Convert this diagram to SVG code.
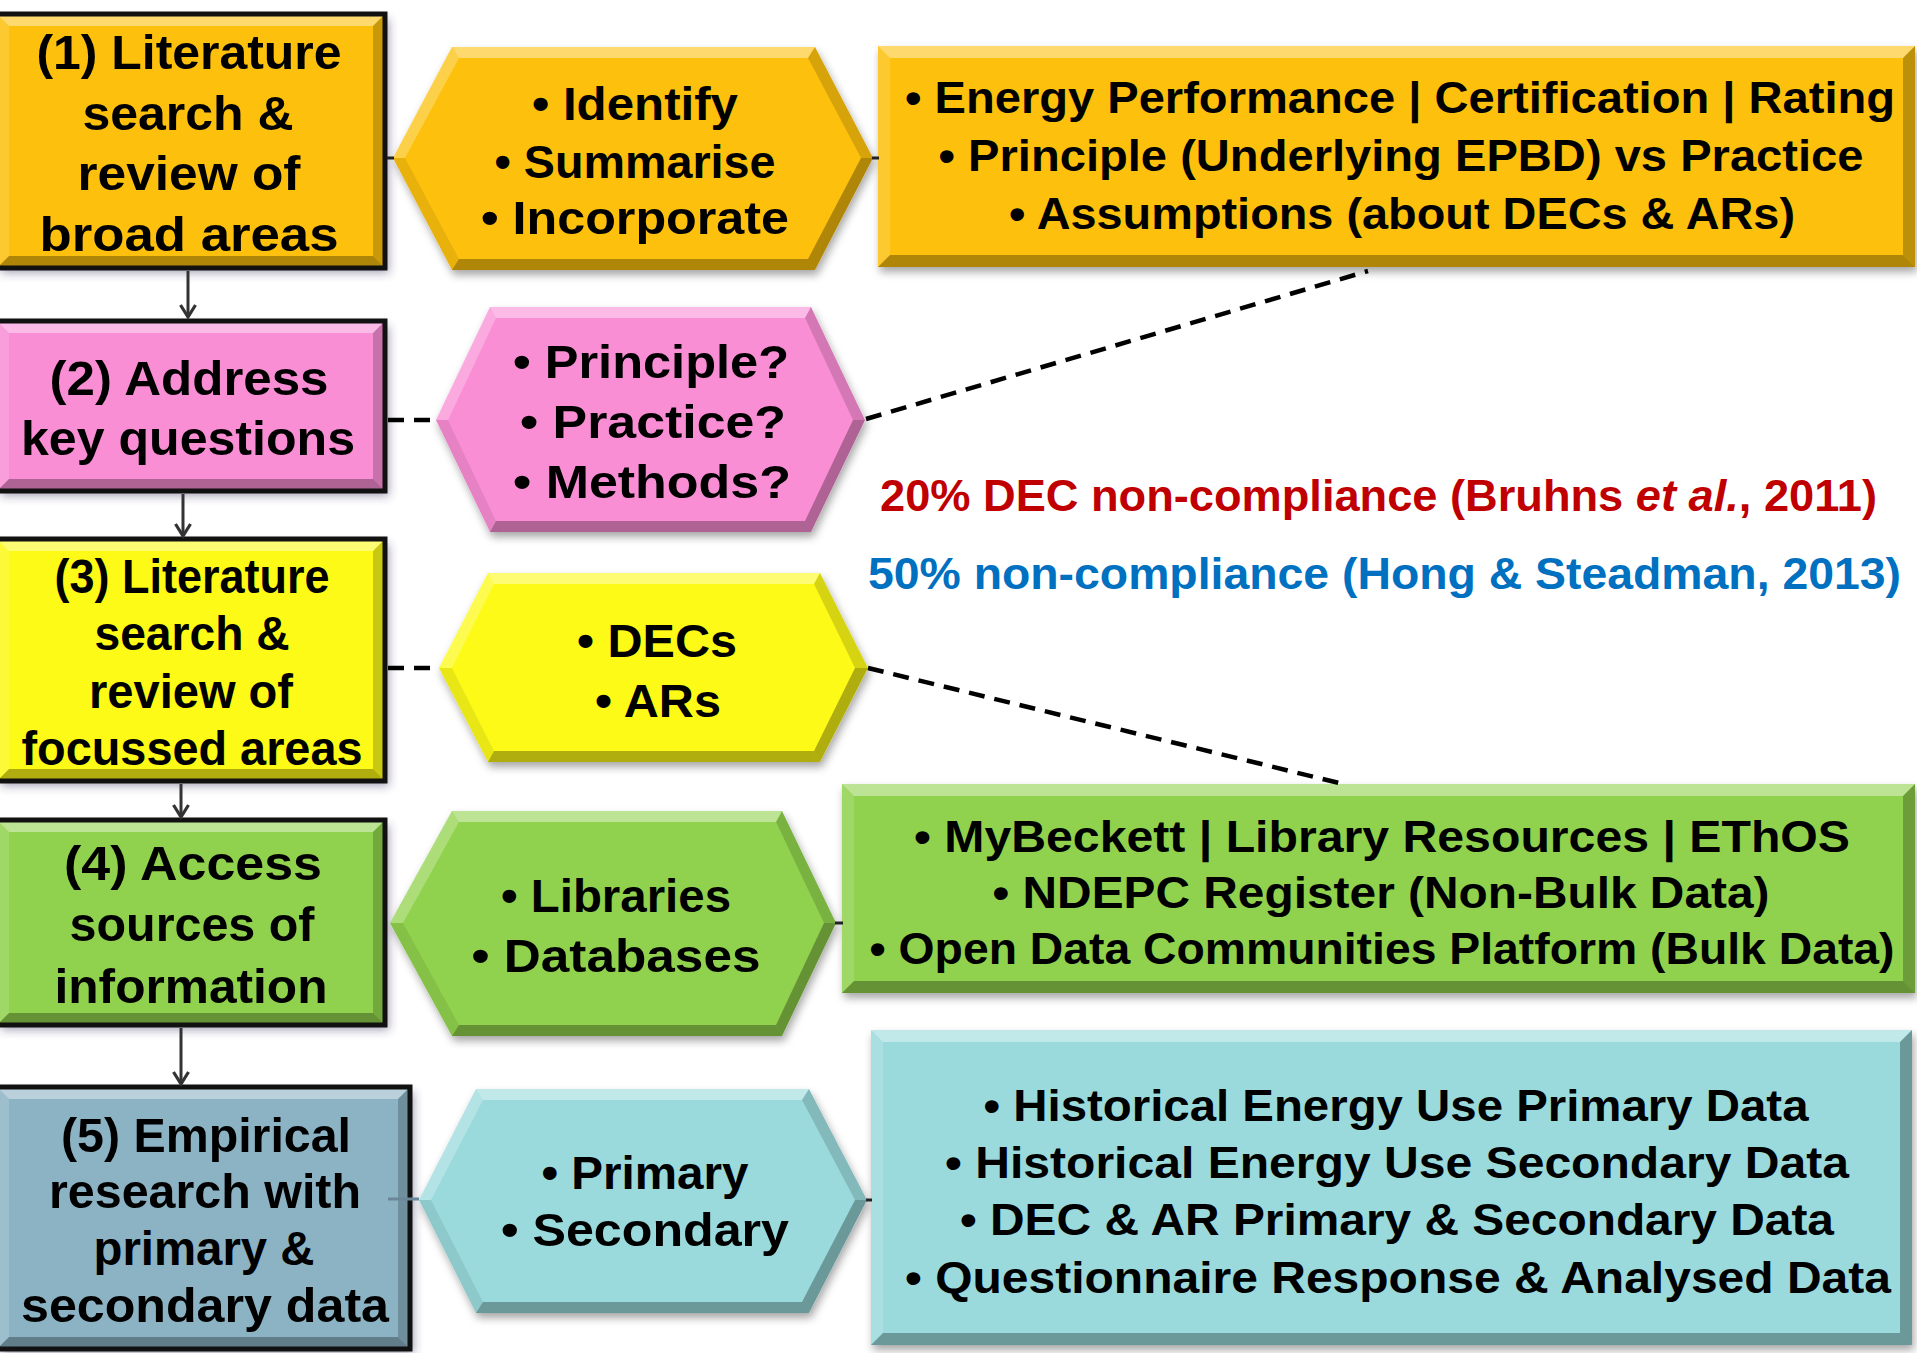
<svg xmlns="http://www.w3.org/2000/svg" width="1917" height="1353" viewBox="0 0 1917 1353">
<defs>
<style>
.t{font-family:"Liberation Sans",Arial,sans-serif;font-weight:bold;fill:#000;text-anchor:middle}
.lb{font-size:48px}
.hx{font-size:46px}
.rb{font-size:44px}
.note{font-family:"Liberation Sans",Arial,sans-serif;font-weight:bold;font-size:44px}
.hl{fill:#fff}
.sh{fill:#000}
.border{fill:none;stroke:#111;stroke-width:5}
.dash{fill:none;stroke:#000;stroke-width:4.5;stroke-dasharray:16 10}
.arrow{fill:none;stroke:#333;stroke-width:3;marker-end:url(#chev)}
.link{fill:none;stroke:#222;stroke-width:3}
</style>
<marker id="chev" markerUnits="userSpaceOnUse" markerWidth="20" markerHeight="20" refX="15" refY="10" orient="auto" viewBox="0 0 20 20">
<path d="M3,2.5 L15,10 L3,17.5" fill="none" stroke="#333" stroke-width="3.2"/>
</marker>
<filter id="shL" x="-10%" y="-10%" width="130%" height="130%">
<feDropShadow dx="4" dy="5" stdDeviation="5" flood-color="#3c3060" flood-opacity="0.45"/>
</filter>
<filter id="shR" x="-10%" y="-10%" width="130%" height="130%">
<feDropShadow dx="2" dy="5" stdDeviation="4" flood-color="#000" flood-opacity="0.35"/>
</filter>
</defs>
<rect width="1917" height="1353" fill="#fff"/>

<!-- Left boxes -->
<g id="box1">
<rect x="-3" y="14" width="388" height="254" fill="#FDC00F" filter="url(#shL)"/>
<polygon class="hl" opacity="0.4" points="-3,14 385,14 373,26 9,26"/>
<polygon class="hl" opacity="0.15" points="-3,14 9,26 9,256 -3,268"/>
<polygon class="sh" opacity="0.3" points="-3,268 9,256 373,256 385,268"/>
<polygon class="sh" opacity="0.2" points="385,14 385,268 373,256 373,26"/>
<rect class="border" x="-3" y="14" width="388" height="254"/>
<text class="t lb" x="189" y="69" textLength="305" lengthAdjust="spacingAndGlyphs">(1) Literature</text>
<text class="t lb" x="188" y="130" textLength="211" lengthAdjust="spacingAndGlyphs">search &amp;</text>
<text class="t lb" x="189" y="190" textLength="223" lengthAdjust="spacingAndGlyphs">review of</text>
<text class="t lb" x="189" y="251" textLength="299" lengthAdjust="spacingAndGlyphs">broad areas</text>
</g>

<g id="box2">
<rect x="-3" y="321" width="388" height="170" fill="#FA8ED5" filter="url(#shL)"/>
<polygon class="hl" opacity="0.4" points="-3,321 385,321 373,333 9,333"/>
<polygon class="hl" opacity="0.15" points="-3,321 9,333 9,479 -3,491"/>
<polygon class="sh" opacity="0.3" points="-3,491 9,479 373,479 385,491"/>
<polygon class="sh" opacity="0.2" points="385,321 385,491 373,479 373,333"/>
<rect class="border" x="-3" y="321" width="388" height="170"/>
<text class="t lb" x="189" y="395" textLength="279" lengthAdjust="spacingAndGlyphs">(2) Address</text>
<text class="t lb" x="188" y="455" textLength="334" lengthAdjust="spacingAndGlyphs">key questions</text>
</g>

<g id="box3">
<rect x="-3" y="539" width="388" height="242" fill="#FCFA14" filter="url(#shL)"/>
<polygon class="hl" opacity="0.4" points="-3,539 385,539 373,551 9,551"/>
<polygon class="hl" opacity="0.15" points="-3,539 9,551 9,769 -3,781"/>
<polygon class="sh" opacity="0.3" points="-3,781 9,769 373,769 385,781"/>
<polygon class="sh" opacity="0.2" points="385,539 385,781 373,769 373,551"/>
<rect class="border" x="-3" y="539" width="388" height="242"/>
<text class="t lb" x="192" y="593" textLength="275" lengthAdjust="spacingAndGlyphs">(3) Literature</text>
<text class="t lb" x="192" y="650" textLength="195" lengthAdjust="spacingAndGlyphs">search &amp;</text>
<text class="t lb" x="191" y="708" textLength="204" lengthAdjust="spacingAndGlyphs">review of</text>
<text class="t lb" x="192" y="765" textLength="341" lengthAdjust="spacingAndGlyphs">focussed areas</text>
</g>

<g id="box4">
<rect x="-3" y="820" width="388" height="205" fill="#90D24E" filter="url(#shL)"/>
<polygon class="hl" opacity="0.4" points="-3,820 385,820 373,832 9,832"/>
<polygon class="hl" opacity="0.15" points="-3,820 9,832 9,1013 -3,1025"/>
<polygon class="sh" opacity="0.3" points="-3,1025 9,1013 373,1013 385,1025"/>
<polygon class="sh" opacity="0.2" points="385,820 385,1025 373,1013 373,832"/>
<rect class="border" x="-3" y="820" width="388" height="205"/>
<text class="t lb" x="193" y="880" textLength="258" lengthAdjust="spacingAndGlyphs">(4) Access</text>
<text class="t lb" x="192" y="941" textLength="245" lengthAdjust="spacingAndGlyphs">sources of</text>
<text class="t lb" x="191" y="1003" textLength="273" lengthAdjust="spacingAndGlyphs">information</text>
</g>

<g id="box5">
<rect x="-3" y="1087" width="413" height="262" fill="#8CB3C4" filter="url(#shL)"/>
<polygon class="hl" opacity="0.4" points="-3,1087 410,1087 398,1099 9,1099"/>
<polygon class="hl" opacity="0.15" points="-3,1087 9,1099 9,1337 -3,1349"/>
<polygon class="sh" opacity="0.3" points="-3,1349 9,1337 398,1337 410,1349"/>
<polygon class="sh" opacity="0.2" points="410,1087 410,1349 398,1337 398,1099"/>
<rect class="border" x="-3" y="1087" width="413" height="262"/>
<text class="t lb" x="206" y="1152" textLength="290" lengthAdjust="spacingAndGlyphs">(5) Empirical</text>
<text class="t lb" x="205" y="1208" textLength="312" lengthAdjust="spacingAndGlyphs">research with</text>
<text class="t lb" x="204" y="1265" textLength="221" lengthAdjust="spacingAndGlyphs">primary &amp;</text>
<text class="t lb" x="205" y="1322" textLength="368" lengthAdjust="spacingAndGlyphs">secondary data</text>
</g>

<!-- Hexagons -->
<g id="hex1">
<polygon points="393,158 452,47 815,47 873,158 815,270 452,270" fill="#FDC00F" filter="url(#shR)"/>
<polygon class="hl" opacity="0.4" points="452,47 815,47 808,58 459,58"/>
<polygon class="hl" opacity="0.25" points="393,158 452,47 459,58 405,158"/>
<polygon class="sh" opacity="0.08" points="393,158 405,158 459,259 452,270"/>
<polygon class="sh" opacity="0.3" points="452,270 459,259 808,259 815,270"/>
<polygon class="sh" opacity="0.3" points="815,270 808,259 861,158 873,158"/>
<polygon class="sh" opacity="0.15" points="815,47 873,158 861,158 808,58"/>
<text class="t hx" x="635" y="120" textLength="206" lengthAdjust="spacingAndGlyphs">• Identify</text>
<text class="t hx" x="635" y="178" textLength="281" lengthAdjust="spacingAndGlyphs">• Summarise</text>
<text class="t hx" x="635" y="234" textLength="308" lengthAdjust="spacingAndGlyphs">• Incorporate</text>
</g>

<g id="hex2">
<polygon points="436,420 490,307 811,307 865,420 811,532 490,532" fill="#FA8ED5" filter="url(#shR)"/>
<polygon class="hl" opacity="0.4" points="490,307 811,307 805,318 496,318"/>
<polygon class="hl" opacity="0.25" points="436,420 490,307 496,318 448,420"/>
<polygon class="sh" opacity="0.08" points="436,420 448,420 496,521 490,532"/>
<polygon class="sh" opacity="0.3" points="490,532 496,521 805,521 811,532"/>
<polygon class="sh" opacity="0.3" points="811,532 805,521 853,420 865,420"/>
<polygon class="sh" opacity="0.15" points="811,307 865,420 853,420 805,318"/>
<text class="t hx" x="651" y="378" textLength="276" lengthAdjust="spacingAndGlyphs">• Principle?</text>
<text class="t hx" x="653" y="438" textLength="266" lengthAdjust="spacingAndGlyphs">• Practice?</text>
<text class="t hx" x="652" y="498" textLength="278" lengthAdjust="spacingAndGlyphs">• Methods?</text>
</g>

<g id="hex3">
<polygon points="439,668 488,573 820,573 868,668 820,762 488,762" fill="#FCFA14" filter="url(#shR)"/>
<polygon class="hl" opacity="0.4" points="488,573 820,573 814,584 494,584"/>
<polygon class="hl" opacity="0.25" points="439,668 488,573 494,584 452,668"/>
<polygon class="sh" opacity="0.08" points="439,668 452,668 494,751 488,762"/>
<polygon class="sh" opacity="0.3" points="488,762 494,751 814,751 820,762"/>
<polygon class="sh" opacity="0.3" points="820,762 814,751 855,668 868,668"/>
<polygon class="sh" opacity="0.15" points="820,573 868,668 855,668 814,584"/>
<text class="t hx" x="657" y="657" textLength="160" lengthAdjust="spacingAndGlyphs">• DECs</text>
<text class="t hx" x="658" y="717" textLength="126" lengthAdjust="spacingAndGlyphs">• ARs</text>
</g>

<g id="hex4">
<polygon points="390,923 452,811 782,811 836,923 782,1036 452,1036" fill="#90D24E" filter="url(#shR)"/>
<polygon class="hl" opacity="0.4" points="452,811 782,811 776,822 459,822"/>
<polygon class="hl" opacity="0.25" points="390,923 452,811 459,822 403,923"/>
<polygon class="sh" opacity="0.08" points="390,923 403,923 459,1025 452,1036"/>
<polygon class="sh" opacity="0.3" points="452,1036 459,1025 776,1025 782,1036"/>
<polygon class="sh" opacity="0.3" points="782,1036 776,1025 824,923 836,923"/>
<polygon class="sh" opacity="0.15" points="782,811 836,923 824,923 776,822"/>
<text class="t hx" x="616" y="912" textLength="230" lengthAdjust="spacingAndGlyphs">• Libraries</text>
<text class="t hx" x="616" y="972" textLength="289" lengthAdjust="spacingAndGlyphs">• Databases</text>
</g>

<g id="hex5">
<polygon points="419,1200 476,1089 809,1089 867,1200 809,1313 476,1313" fill="#9ADADC" filter="url(#shR)"/>
<polygon class="hl" opacity="0.4" points="476,1089 809,1089 802,1100 483,1100"/>
<polygon class="hl" opacity="0.25" points="419,1200 476,1089 483,1100 431,1200"/>
<polygon class="sh" opacity="0.08" points="419,1200 431,1200 483,1302 476,1313"/>
<polygon class="sh" opacity="0.3" points="476,1313 483,1302 802,1302 809,1313"/>
<polygon class="sh" opacity="0.3" points="809,1313 802,1302 855,1200 867,1200"/>
<polygon class="sh" opacity="0.15" points="809,1089 867,1200 855,1200 802,1100"/>
<text class="t hx" x="645" y="1189" textLength="207" lengthAdjust="spacingAndGlyphs">• Primary</text>
<text class="t hx" x="645" y="1246" textLength="288" lengthAdjust="spacingAndGlyphs">• Secondary</text>
</g>

<!-- Right boxes -->
<g id="detail1">
<rect x="878" y="46" width="1037" height="221" fill="#FDC00F" filter="url(#shR)"/>
<polygon class="hl" opacity="0.4" points="878,46 1915,46 1903,58 890,58"/>
<polygon class="hl" opacity="0.15" points="878,46 890,58 890,255 878,267"/>
<polygon class="sh" opacity="0.3" points="878,267 890,255 1903,255 1915,267"/>
<polygon class="sh" opacity="0.25" points="1915,46 1915,267 1903,255 1903,58"/>
<text class="t rb" x="1400" y="113" textLength="990" lengthAdjust="spacingAndGlyphs">• Energy Performance | Certification | Rating</text>
<text class="t rb" x="1401" y="171" textLength="925" lengthAdjust="spacingAndGlyphs">• Principle (Underlying EPBD) vs Practice</text>
<text class="t rb" x="1402" y="229" textLength="786" lengthAdjust="spacingAndGlyphs">• Assumptions (about DECs &amp; ARs)</text>
</g>

<g id="detail4">
<rect x="842" y="784" width="1073" height="209" fill="#90D24E" filter="url(#shR)"/>
<polygon class="hl" opacity="0.4" points="842,784 1915,784 1903,796 854,796"/>
<polygon class="hl" opacity="0.15" points="842,784 854,796 854,981 842,993"/>
<polygon class="sh" opacity="0.3" points="842,993 854,981 1903,981 1915,993"/>
<polygon class="sh" opacity="0.25" points="1915,784 1915,993 1903,981 1903,796"/>
<text class="t rb" x="1382" y="852" textLength="936" lengthAdjust="spacingAndGlyphs">• MyBeckett | Library Resources | EThOS</text>
<text class="t rb" x="1381" y="908" textLength="777" lengthAdjust="spacingAndGlyphs">• NDEPC Register (Non-Bulk Data)</text>
<text class="t rb" x="1382" y="964" textLength="1025" lengthAdjust="spacingAndGlyphs">• Open Data Communities Platform (Bulk Data)</text>
</g>

<g id="detail5">
<rect x="871" y="1030" width="1041" height="315" fill="#9ADADC" filter="url(#shR)"/>
<polygon class="hl" opacity="0.4" points="871,1030 1912,1030 1900,1042 883,1042"/>
<polygon class="hl" opacity="0.15" points="871,1030 883,1042 883,1333 871,1345"/>
<polygon class="sh" opacity="0.3" points="871,1345 883,1333 1900,1333 1912,1345"/>
<polygon class="sh" opacity="0.3" points="1912,1030 1912,1345 1900,1333 1900,1042"/>
<text class="t rb" x="1396" y="1121" textLength="825" lengthAdjust="spacingAndGlyphs">• Historical Energy Use Primary Data</text>
<text class="t rb" x="1397" y="1178" textLength="904" lengthAdjust="spacingAndGlyphs">• Historical Energy Use Secondary Data</text>
<text class="t rb" x="1397" y="1235" textLength="874" lengthAdjust="spacingAndGlyphs">• DEC &amp; AR Primary &amp; Secondary Data</text>
<text class="t rb" x="1398" y="1293" textLength="986" lengthAdjust="spacingAndGlyphs">• Questionnaire Response &amp; Analysed Data</text>
</g>

<g id="notes">
<text class="note" x="880" y="511" fill="#C00000" textLength="997" lengthAdjust="spacingAndGlyphs">20% DEC non-compliance (Bruhns <tspan font-style="italic">et al.</tspan>, 2011)</text>
<text class="note" x="868" y="589" fill="#0070C0" textLength="1033" lengthAdjust="spacingAndGlyphs">50% non-compliance (Hong &amp; Steadman, 2013)</text>
</g>

<g id="connectors">
<line class="arrow" x1="188" y1="271" x2="188" y2="317"/>
<line class="arrow" x1="183" y1="494" x2="183" y2="536"/>
<line class="arrow" x1="181" y1="784" x2="181" y2="817"/>
<line class="arrow" x1="181" y1="1028" x2="181" y2="1084"/>
<line class="dash" x1="388" y1="420" x2="436" y2="420"/>
<line class="dash" x1="388" y1="668" x2="439" y2="668"/>
<line class="dash" x1="866" y1="419" x2="1368" y2="271"/>
<line class="dash" x1="868" y1="668" x2="1339" y2="783"/>
<line class="link" x1="387" y1="158" x2="394" y2="158"/>
<line class="link" x1="872" y1="158" x2="879" y2="158"/>
<line class="link" x1="835" y1="923" x2="843" y2="923"/>
<line class="link" x1="866" y1="1200" x2="872" y2="1200" stroke="#556"/>
<line x1="388" y1="1199" x2="419" y2="1199" stroke="#6b8797" stroke-width="3"/>
</g>
</svg>
